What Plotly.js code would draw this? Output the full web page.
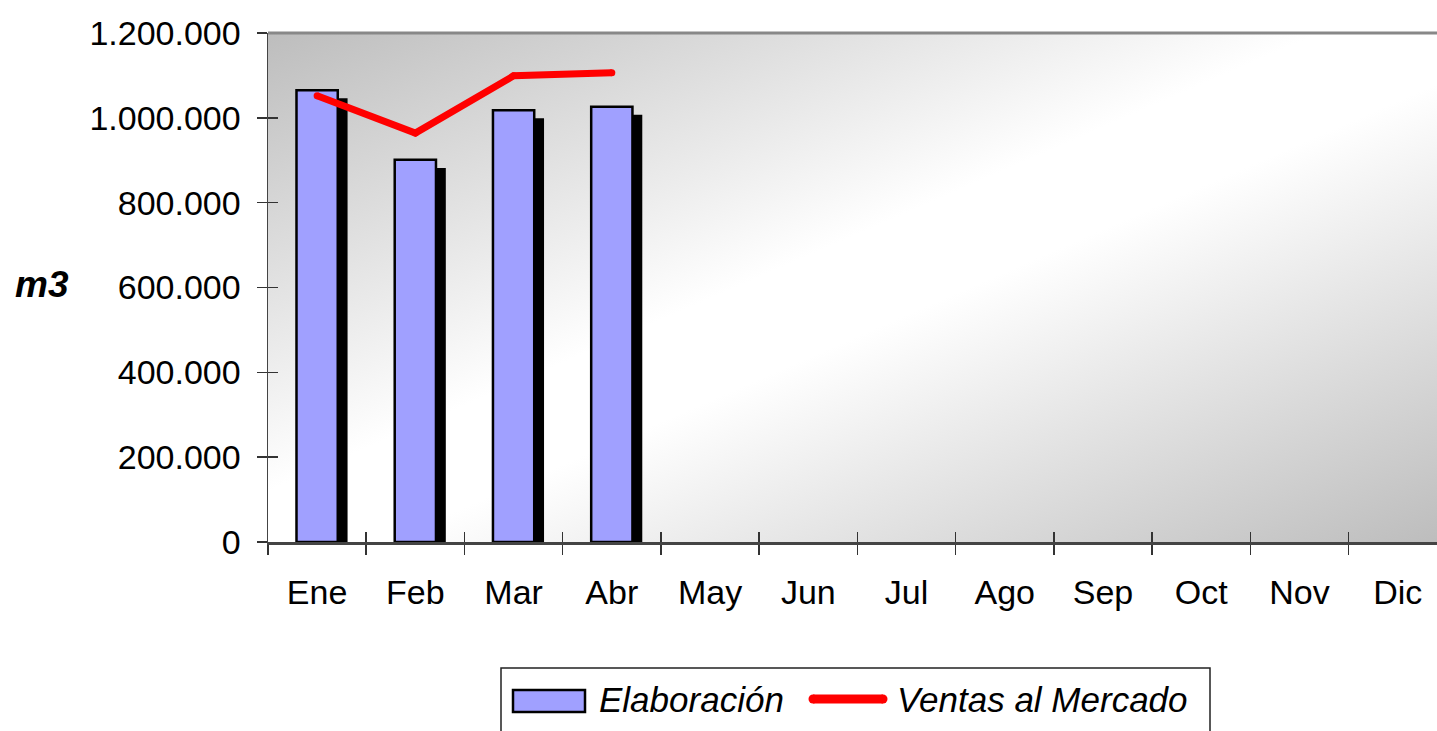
<!DOCTYPE html>
<html>
<head>
<meta charset="utf-8">
<script src="https://cdn.plot.ly/plotly-3.0.1.min.js"></script>
<style>
  html, body { margin: 0; padding: 0; background: #fff; }
  #chart { width: 1437px; height: 731px; }
</style>
</head>
<body>
<div id="chart"></div>
<script>
// ---- data ----
const months = ["Ene", "Feb", "Mar", "Abr", "May", "Jun", "Jul", "Ago", "Sep", "Oct", "Nov", "Dic"];
const dataMonths = ["Ene", "Feb", "Mar", "Abr"];
const elaboracion = [1065000, 901000, 1018000, 1026000];
const ventasMercado = [1052000, 964000, 1099000, 1106000];
const seriesNames = ["Elaboración", "Ventas al Mercado"];
const yTitle = "m3";

// ---- style constants ----
const SHADOW_DROP = 19000;   // vertical shadow offset in data units
const BAR_W = 0.42;
const SHADOW_SHIFT = 0.10;   // horizontal shadow offset in category units
const FONT = "Liberation Sans, Arial, sans-serif";
const X_RANGE = [-0.5, 11.4];
const Y_RANGE = [0, 1200000];

// plot area pixel geometry
const L = 268, R = 1437, T = 33, B = 542;
const fx = px => (px - L) / (R - L);
const fy = py => (B - py) / (B - T);

const shadow = {
  type: "bar", x: dataMonths, y: elaboracion.map(v => v - SHADOW_DROP),
  width: BAR_W, offset: -BAR_W / 2 + SHADOW_SHIFT,
  marker: { color: "#000000", line: { width: 0 } },
  hoverinfo: "skip", showlegend: false
};
const bars = {
  type: "bar", name: seriesNames[0], x: dataMonths, y: elaboracion,
  width: BAR_W,
  marker: { color: "#A0A0FF", line: { color: "#000000", width: 2.5 } },
  showlegend: false
};
const line = {
  type: "scatter", mode: "lines+markers", name: seriesNames[1],
  x: dataMonths, y: ventasMercado, xaxis: "x2", yaxis: "y2",
  line: { color: "#FF0000", width: 7 },
  marker: { color: "#FF0000", size: 7 },
  showlegend: false
};

const bgSvg = '<svg xmlns="http://www.w3.org/2000/svg" width="100" height="100" viewBox="0 0 100 100" preserveAspectRatio="none">' +
  '<defs><linearGradient id="g" x1="0" y1="0" x2="1" y2="1">' +
  '<stop offset="0" stop-color="#BDBDBD"/><stop offset="0.45" stop-color="#FFFFFF"/><stop offset="0.55" stop-color="#FFFFFF"/><stop offset="1" stop-color="#BDBDBD"/>' +
  '</linearGradient></defs><rect width="100" height="100" fill="url(#g)"/></svg>';

const tickFont = { family: FONT, size: 34, color: "#000" };
const legFont = { family: FONT, size: 35, color: "#000", style: "italic" };

const layout = {
  width: 1437, height: 731, autosize: false,
  margin: { l: L, r: 1437 - R, t: T, b: 731 - B, pad: 0 },
  paper_bgcolor: "#ffffff", plot_bgcolor: "rgba(0,0,0,0)",
  separators: ",.",
  barmode: "overlay",
  showlegend: false,
  xaxis: {
    type: "category", categoryorder: "array", categoryarray: months,
    range: X_RANGE, tickvals: months, ticktext: months,
    tickson: "boundaries", ticks: "outside", ticklen: 10, tickwidth: 1.5, tickcolor: "#333",
    showline: true, linecolor: "#444", linewidth: 2.5,
    showgrid: false, zeroline: false, tickfont: tickFont, ticklabelstandoff: 19,
    fixedrange: true
  },
  xaxis2: {
    type: "category", categoryorder: "array", categoryarray: months,
    range: X_RANGE, overlaying: "x", anchor: "y", side: "bottom",
    tickson: "boundaries", ticks: "inside", ticklen: 10, tickwidth: 1.5, tickcolor: "#333",
    showticklabels: false, showline: false, showgrid: false, zeroline: false, fixedrange: true
  },
  yaxis: {
    range: Y_RANGE, dtick: 200000, tick0: 0, tickformat: ",d",
    ticks: "outside", ticklen: 10, tickwidth: 1.5, tickcolor: "#333",
    showline: true, linecolor: "#444", linewidth: 1.5,
    showgrid: false, zeroline: false, tickfont: tickFont, ticklabelstandoff: 9,
    fixedrange: true
  },
  yaxis2: {
    range: Y_RANGE, dtick: 200000, tick0: 0, overlaying: "y", anchor: "x", side: "left",
    ticks: "inside", ticklen: 10, tickwidth: 1.5, tickcolor: "#333",
    showticklabels: false, showline: false, showgrid: false, zeroline: false, fixedrange: true
  },
  images: [{
    source: "data:image/svg+xml;charset=utf-8," + encodeURIComponent(bgSvg),
    xref: "paper", yref: "paper", x: 0, y: 1, sizex: 1, sizey: 1,
    xanchor: "left", yanchor: "top", sizing: "stretch", layer: "below"
  }],
  shapes: [
    // top border of plot area
    { type: "line", xref: "paper", yref: "paper", x0: 0, x1: 1, y0: 1, y1: 1, line: { color: "#888", width: 3 } },
    // legend box
    { type: "rect", xref: "paper", yref: "paper", x0: fx(501), x1: fx(1210), y0: fy(668), y1: fy(760),
      line: { color: "#222", width: 1.5 }, fillcolor: "#ffffff" },
    // legend bar swatch
    { type: "rect", xref: "paper", yref: "paper", x0: fx(513), x1: fx(585), y0: fy(690), y1: fy(712),
      line: { color: "#000", width: 2.5 }, fillcolor: "#A0A0FF" },
    // legend line swatch
    { type: "line", xref: "paper", yref: "paper", x0: fx(813), x1: fx(883), y0: fy(699), y1: fy(699),
      line: { color: "#FF0000", width: 9 } },
    { type: "circle", xref: "paper", yref: "paper", x0: fx(808.5), x1: fx(817.5), y0: fy(694.5), y1: fy(703.5),
      line: { width: 0 }, fillcolor: "#FF0000" },
    { type: "circle", xref: "paper", yref: "paper", x0: fx(878.5), x1: fx(887.5), y0: fy(694.5), y1: fy(703.5),
      line: { width: 0 }, fillcolor: "#FF0000" }
  ],
  annotations: [
    { text: yTitle, xref: "paper", yref: "paper", x: fx(42), y: fy(284), xanchor: "center", yanchor: "middle",
      showarrow: false, font: { family: FONT, size: 37, color: "#000", weight: "bold", style: "italic" } },
    { text: seriesNames[0], xref: "paper", yref: "paper", x: fx(597), y: fy(699), xanchor: "left", yanchor: "middle",
      showarrow: false, font: legFont },
    { text: seriesNames[1], xref: "paper", yref: "paper", x: fx(895), y: fy(699), xanchor: "left", yanchor: "middle",
      showarrow: false, font: legFont }
  ]
};

Plotly.newPlot("chart", [shadow, bars, line], layout, { displayModeBar: false, staticPlot: true });
</script>
</body>
</html>
